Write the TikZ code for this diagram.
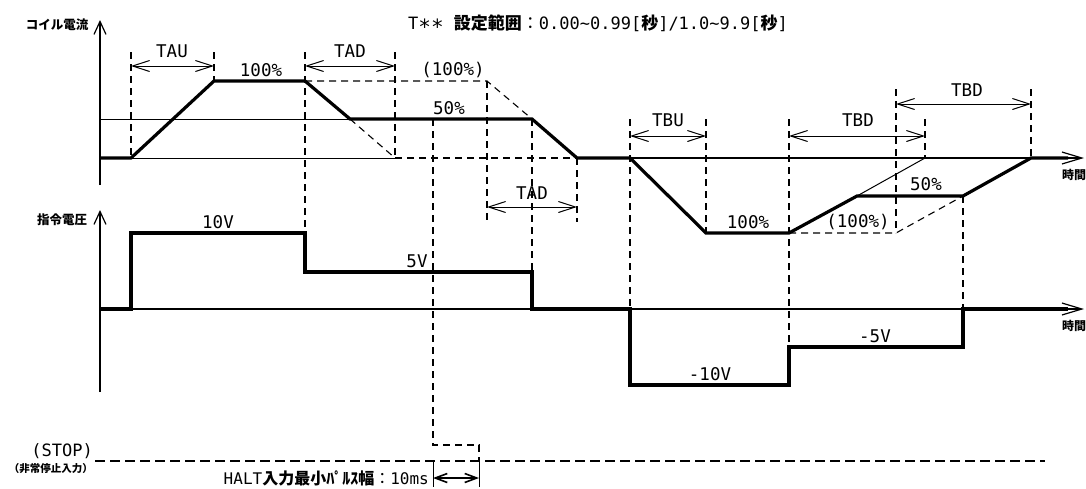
\documentclass[tikz,border=0pt]{standalone}
\usepackage{fontspec}
\setmainfont{DejaVu Sans Mono}
\newfontfamily\jp{Noto Sans CJK JP}
\usetikzlibrary{arrows.meta}
\tikzset{
 thinln/.style={line width=1pt},
 trace/.style={line width=3.2pt},
 dsh/.style={line width=1.1pt, dash pattern=on 7pt off 5pt},
 dimarr/.style={line width=1pt, {Straight Barb[length=17pt,width=11pt]}-{Straight Barb[length=17pt,width=11pt]}},
 haltarr/.style={line width=1.6pt, {Straight Barb[length=12pt,width=9pt]}-{Straight Barb[length=12pt,width=9pt]}},
 axisarr/.style={line width=1.2pt, -{Straight Barb[length=13pt,width=12pt]}},
 timearr/.style={line width=1.2pt, -{Straight Barb[length=20pt,width=12pt]}},
 lbl/.style={inner sep=0pt, font=\fontsize{17.5}{18}\selectfont},
 ttl/.style={inner sep=0pt, font=\fontsize{17}{18}\selectfont},
 jlbl/.style={inner sep=0pt, font=\jp\bfseries\fontsize{12.5}{13}\selectfont},
 tlbl/.style={inner sep=0pt, font=\jp\bfseries\fontsize{12}{12}\selectfont},
 stopln/.style={line width=2.2pt, dash pattern=on 10pt off 5pt},
}
\newcommand{\tld}{\textasciitilde}
\begin{document}
\begin{tikzpicture}[x=1pt,y=-1pt]
\useasboundingbox (0,0) rectangle (1086,488);
% axes
\draw[axisarr] (100,185) -- (100,20);
\draw[axisarr] (100,392) -- (100,210);
\node[jlbl] (lcoil) at (57,25) {コイル電流};
\node[jlbl] (lvolt) at (62,220) {指令電圧};
% title
\node[ttl] (title) at (598,25) {T\raisebox{-0.3em}{\fontsize{21}{21}\selectfont **} {\jp\bfseries 設定範囲}{\jp ：}0.00\tld 0.99[{\jp\bfseries 秒}]/1.0\tld 9.9[{\jp\bfseries 秒}]};
% top baselines
\draw[thinln] (100,158) -- (395,158);
\draw[dsh] (395,158) -- (577,158);
\draw[timearr] (577,158) -- (1084,158);
\node[tlbl] (t1) at (1074,175) {時間};
\draw[thinln] (100,119) -- (532,119);
% dashed verticals
\draw[dsh] (131,52) -- (131,158);
\draw[dsh] (214,52) -- (214,81);
\draw[dsh] (305,52) -- (305,233);
\draw[dsh] (395,52) -- (395,158);
\draw[dsh] (433,119) -- (433,445) -- (479,445) -- (479,461);
\draw[dsh] (487,81) -- (487,222);
\draw[dsh] (532,119) -- (532,272);
\draw[dsh] (577,158) -- (577,222);
\draw[dsh] (630,119) -- (630,309);
\draw[dsh] (706,119) -- (706,233);
\draw[dsh] (789,119) -- (789,347);
\draw[dsh] (896,89) -- (896,233);
\draw[dsh] (925,119) -- (925,158);
\draw[dsh] (963,196) -- (963,309);
\draw[dsh] (1031,89) -- (1031,158);
% dashed (100%) profiles
\draw[dsh] (305,81) -- (487,81) -- (532,119);
\draw[dsh] (350,119) -- (395,158);
\draw[dsh] (789,233) -- (896,233) -- (963,196);
\draw[thinln] (857,196) -- (925,158);
% current trace
\draw[trace] (100,158) -- (131,158) -- (214,81) -- (305,81) -- (350,119) -- (532,119) -- (577,158) -- (630,158) -- (706,233) -- (789,233) -- (857,196) -- (963,196) -- (1031,158) -- (1068,158);
% dimension arrows
\draw[dimarr] (131,66) -- (214,66);
\node[lbl] (ltau) at (172,51) {TAU};
\draw[dimarr] (305,66) -- (395,66);
\node[lbl] (ltad) at (350,51) {TAD};
\draw[dimarr] (487,207) -- (577,207);
\node[lbl] (ltad2) at (532,193) {TAD};
\draw[dimarr] (630,136) -- (706,136);
\node[lbl] (ltbu) at (668,120) {TBU};
\draw[dimarr] (789,136) -- (925,136);
\node[lbl] (ltbd) at (858,120) {TBD};
\draw[dimarr] (896,104) -- (1031,104);
\node[lbl] (ltbd2) at (967,90) {TBD};
% current labels
\node[lbl] (p100) at (261,70) {100\%};
\node[lbl] (p100d) at (453,70) {(100\%)};
\node[lbl] (p50) at (449,108) {50\%};
\node[lbl] (n100) at (748,222) {100\%};
\node[lbl] (n100d) at (858,222) {(100\%)};
\node[lbl] (n50) at (926,184) {50\%};
% voltage
\draw[timearr] (100,309) -- (1084,309);
\node[tlbl] (t2) at (1074,326) {時間};
\draw[trace] (100,309) -- (131,309) -- (131,233) -- (305,233) -- (305,272) -- (532,272) -- (532,309) -- (630,309) -- (630,385) -- (789,385) -- (789,347) -- (963,347) -- (963,309) -- (1068,309);
\node[lbl] (v10) at (218,222) {10V};
\node[lbl] (v5) at (417,261) {5V};
\node[lbl] (vm10) at (710,374) {-10V};
\node[lbl] (vm5) at (875,336) {-5V};
% stop
\draw[stopln] (95,461) -- (1045,461);
\node[inner sep=0pt, font=\fontsize{17}{17}\selectfont, anchor=east] (lstop) at (93,451) {(STOP)};
\node[inner sep=0pt, font=\jp\bfseries\fontsize{10.5}{11}\selectfont, anchor=east] (lstop2) at (93,469) {（非常停止入力）};
\draw[thinln] (433,461) -- (433,487);
\draw[thinln] (479,461) -- (479,487);
\draw[haltarr] (433,478) -- (479,478);
\node[inner sep=0pt, font=\fontsize{16}{16}\selectfont, anchor=east] (lhalt) at (429,478) {HALT{\jp\bfseries 入力最小ﾊﾟﾙｽ幅}{\jp ：}10ms};
\end{tikzpicture}
\end{document}
